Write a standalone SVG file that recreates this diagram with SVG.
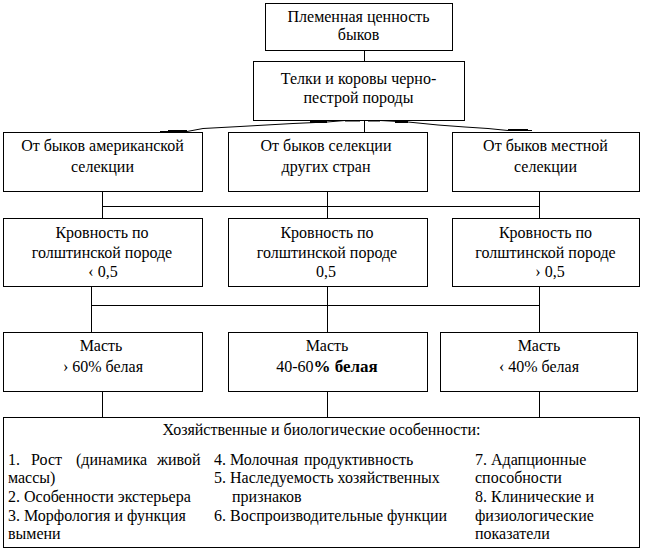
<svg xmlns="http://www.w3.org/2000/svg" width="654" height="553" viewBox="0 0 654 553" font-family="'Liberation Serif', 'DejaVu Serif', serif" font-size="16">
<style>
.box{fill:#fff;stroke:#000;stroke-width:1;shape-rendering:crispEdges}
.ln{fill:none;stroke:#000;stroke-width:1;shape-rendering:crispEdges}
.thk{fill:none;stroke:#000;stroke-width:2}
.c{text-anchor:middle}
</style>
<rect width="654" height="553" fill="#fff"/>
<g id="connectors">
<line class="ln" x1="364.5" y1="50.5" x2="364.5" y2="61.5"/>
<line class="ln" x1="364.5" y1="120.5" x2="364.5" y2="132.5"/>
<path class="ln" style="shape-rendering:auto" d="M160,131.5 L187,131.5 L203,128.5 L240,126.5 L293,123.5 L327,122 L345,120.5 L380,120.5 L408,122 L438,125 L465,127 L488,128.5 L508,130.5 L532,130.5"/>
<path class="thk" d="M168,131 H187 M310,122 H327 M345,120.5 H360 M368,120.5 H380 M395,122 H408 M508,130 H528"/>
<line class="ln" x1="102.5" y1="191.5" x2="102.5" y2="223"/>
<line class="ln" x1="327.5" y1="191.5" x2="327.5" y2="218.5"/>
<line class="ln" x1="539.5" y1="191.5" x2="539.5" y2="223"/>
<line class="ln" x1="102.5" y1="206.5" x2="539.5" y2="206.5"/>
<line class="ln" x1="91.5" y1="286.5" x2="91.5" y2="332.5"/>
<line class="ln" x1="327.5" y1="286.5" x2="327.5" y2="332.5"/>
<line class="ln" x1="539.5" y1="286.5" x2="539.5" y2="332.5"/>
<line class="ln" x1="91.5" y1="305.5" x2="539.5" y2="305.5"/>
<line class="ln" x1="102.5" y1="391.5" x2="102.5" y2="417.5"/>
<line class="ln" x1="327.5" y1="391.5" x2="327.5" y2="417.5"/>
<line class="ln" x1="539.5" y1="391.5" x2="539.5" y2="417.5"/>
</g>
<g id="n1"><rect class="box" x="265.5" y="3.5" width="187" height="47"/>
<text class="c" x="358.5" y="22">Племенная ценность</text><text class="c" x="358.5" y="40">быков</text></g>
<g id="n2"><rect class="box" x="253.5" y="61.5" width="211" height="59"/>
<text class="c" x="358.5" y="84">Телки и коровы черно-</text><text class="c" x="358.5" y="103">пестрой породы</text></g>
<g id="n3"><rect class="box" x="3.5" y="132.5" width="199" height="59"/>
<text class="c" x="102.5" y="151">От быков американской</text><text class="c" x="102.5" y="172">селекции</text></g>
<g id="n4"><rect class="box" x="228.5" y="132.5" width="199" height="59"/>
<text class="c" x="326" y="151">От быков селекции</text><text class="c" x="326" y="172">других стран</text></g>
<g id="n5"><rect class="box" x="452.5" y="132.5" width="187" height="59"/>
<text class="c" x="545.5" y="151">От быков местной</text><text class="c" x="545.5" y="172">селекции</text></g>
<g id="n6"><rect class="box" x="3.5" y="218.5" width="199" height="68"/>
<text class="c" x="102" y="238">Кровность по</text><text class="c" x="102" y="258">голштинской породе</text><text class="c" x="103" y="277">‹ 0,5</text></g>
<g id="n7"><rect class="box" x="228.5" y="218.5" width="199" height="68"/>
<text class="c" x="327" y="238">Кровность по</text><text class="c" x="327" y="258">голштинской породе</text><text class="c" x="326" y="277">0,5</text></g>
<g id="n8"><rect class="box" x="452.5" y="218.5" width="187" height="68"/>
<text class="c" x="545.5" y="238">Кровность по</text><text class="c" x="545.5" y="258">голштинской породе</text><text class="c" x="550" y="277">› 0,5</text></g>
<g id="n9"><rect class="box" x="3.5" y="332.5" width="199" height="59"/>
<text class="c" x="101" y="351">Масть</text><text class="c" x="103" y="372">› 60% белая</text></g>
<g id="n10"><rect class="box" x="228.5" y="332.5" width="199" height="59"/>
<text class="c" x="327" y="351">Масть</text><text class="c" x="327" y="372">40-60<tspan font-weight="bold" font-size="17">% белая</tspan></text></g>
<g id="n11"><rect class="box" x="440.5" y="332.5" width="197" height="59"/>
<text class="c" x="539" y="351">Масть</text><text class="c" x="539" y="372">‹ 40% белая</text></g>
<g id="n12"><rect class="box" x="3.5" y="417.5" width="636" height="130"/>
<text class="c" x="321.5" y="435">Хозяйственные и биологические особенности:</text>
<text y="465"><tspan x="8">1.</tspan><tspan x="31">Рост</tspan><tspan x="76">(динамика</tspan><tspan x="157">живой</tspan></text>
<text x="8" y="483">массы)</text>
<text x="8" y="502">2. Особенности экстерьера</text>
<text x="8" y="521">3. Морфология и функция</text>
<text x="8" y="539">вымени</text>
<text y="465"><tspan x="214">4. Молочная</tspan><tspan x="304">продуктивность</tspan></text>
<text x="214" y="483">5. Наследуемость хозяйственных</text>
<text x="232" y="502">признаков</text>
<text x="214" y="521">6. Воспроизводительные функции</text>
<text x="475" y="465">7. Адапционные</text>
<text x="475" y="483">способности</text>
<text x="475" y="502">8. Клинические и</text>
<text x="475" y="521">физиологические</text>
<text x="475" y="539">показатели</text>
</g>
</svg>
